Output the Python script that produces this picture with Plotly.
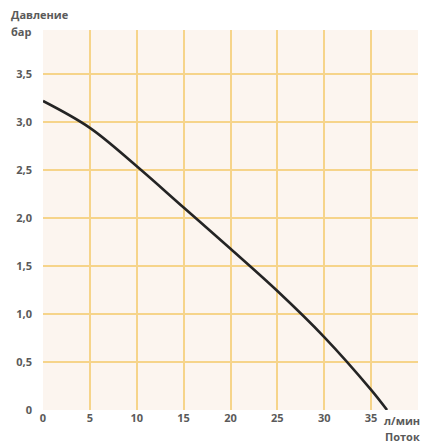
import plotly.graph_objects as go

flow = [0, 5, 10, 15, 20, 25, 30, 35, 36.7]
pressure = [3.22, 2.94, 2.54, 2.11, 1.68, 1.24, 0.76, 0.21, 0.0]

x_ticks = [0, 5, 10, 15, 20, 25, 30, 35, 40]
x_labels = ["0", "5", "10", "15", "20", "25", "30", "35", ""]
y_ticks = [0, 0.5, 1.0, 1.5, 2.0, 2.5, 3.0, 3.5]
y_labels = ["0", "0,5", "1,0", "1,5", "2,0", "2,5", "3,0", "3,5"]

grid_color = "#f6d48a"
font_color = "#5a5a5a"
fam = "Open Sans"

fig = go.Figure()
fig.add_trace(go.Scatter(
    x=flow, y=pressure, mode="lines",
    line=dict(color="#242424", width=2.6, shape="spline", smoothing=1.0),
    hoverinfo="skip", showlegend=False,
))

fig.update_layout(
    width=422, height=446, autosize=False,
    margin=dict(l=43, r=4, t=30, b=36, autoexpand=False),
    paper_bgcolor="white",
    plot_bgcolor="#fcf5ef",
    font=dict(family=fam, size=11, color=font_color),
    xaxis=dict(
        range=[0, 40], tickvals=x_ticks, ticktext=x_labels,
        showgrid=True, gridcolor=grid_color, gridwidth=1.5,
        zeroline=False, showline=False, ticks="", ticklen=0,
        automargin=False,
        tickfont=dict(family=fam, size=11, color=font_color, weight=700),
        fixedrange=True,
    ),
    yaxis=dict(
        range=[0, 3.96], tickvals=y_ticks, ticktext=y_labels,
        showgrid=True, gridcolor=grid_color, gridwidth=1.5,
        zeroline=False, showline=False, ticks="", ticklen=0,
        ticklabelstandoff=10, automargin=False,
        tickfont=dict(family=fam, size=11, color=font_color, weight=700),
        fixedrange=True,
    ),
    annotations=[
        dict(text="Давление", xref="paper", yref="paper", x=-0.09, y=1.0,
             xanchor="left", yanchor="bottom", yshift=6, showarrow=False,
             font=dict(family=fam, size=11, color=font_color, weight=700)),
        dict(text="бар", xref="paper", yref="paper", x=-0.09, y=1.0,
             xanchor="left", yanchor="top", yshift=8, showarrow=False,
             font=dict(family=fam, size=11, color=font_color, weight=700)),
        dict(text="л/мин", xref="paper", yref="paper", x=1.01, y=0,
             xanchor="right", yanchor="top", yshift=-1, showarrow=False,
             font=dict(family=fam, size=11, color=font_color, weight=700)),
        dict(text="Поток", xref="paper", yref="paper", x=1.01, y=0,
             xanchor="right", yanchor="top", yshift=-17, showarrow=False,
             font=dict(family=fam, size=11, color=font_color, weight=700)),
    ],
)

fig.write_html("out.html", config={"responsive": False, "displayModeBar": False},
               post_script="document.body.style.margin='0';")
